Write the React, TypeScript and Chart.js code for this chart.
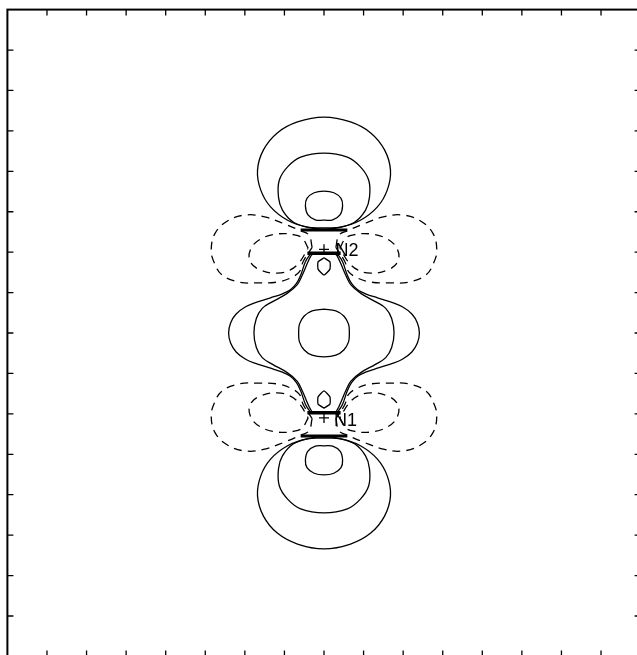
import { useEffect, useRef } from 'react';
import { Chart, registerables } from 'chart.js';

Chart.register(...registerables);

type Pt = [number, number];

// Axis frame (data units, molecule centred at 0,0)
const AXIS_MIN = -8;
const AXIS_MAX = 8;
const TICK_VALUES = [-7, -6, -5, -4, -3, -2, -1, 0, 1, 2, 3, 4, 5, 6, 7];

// Atom positions and labels
const ATOMS: Pt[] = [[0, 2.07], [0, -2.1]];
const ATOM_LABELS = ['N2', 'N1'];
const LABEL_POS: Pt[] = [[0.29, 2.04], [0.25, -2.17]];

// Upper positive lobe (right half, from bottom cusp up to top)
const upperLobeOuter: Pt[] = [[0, 2.6], [0.42, 2.62], [0.92, 2.79], [1.35, 3.12], [1.6, 3.54], [1.68, 4.03], [1.53, 4.53], [1.18, 4.95], [0.67, 5.22], [0, 5.34]];
const upperLobeMiddle: Pt[] = [[0, 2.57], [0.34, 2.6], [0.77, 2.74], [1.05, 3.04], [1.15, 3.36], [1.13, 3.78], [0.92, 4.11], [0.59, 4.35], [0, 4.45]];
const upperLobeInner: Pt[] = [[0, 2.79], [0.22, 2.8], [0.41, 2.93], [0.47, 3.15], [0.43, 3.33], [0.25, 3.47], [0, 3.51]];

// Central positive lobe (top-right quarter)
const midLobeOuter: Pt[] = [[0, 1.98], [0.3, 1.98], [0.36, 1.93], [0.47, 1.76], [0.59, 1.43], [0.7, 1.22], [0.85, 1.07], [1.05, 0.97], [1.35, 0.87], [1.68, 0.77], [1.98, 0.65], [2.22, 0.47], [2.36, 0.25], [2.41, 0]];
const midLobeSecond: Pt[] = [[0, 1.98], [0.25, 1.98], [0.34, 1.89], [0.44, 1.68], [0.55, 1.43], [0.68, 1.19], [0.93, 0.98], [1.31, 0.77], [1.56, 0.61], [1.71, 0.36], [1.77, 0]];
const midLobeInner: Pt[] = [[0, 0.59], [0.3, 0.55], [0.5, 0.42], [0.62, 0.22], [0.64, 0]];

// Small positive pocket next to atom (right half, top to bottom)
const pocket: Pt[] = [[0, 1.86], [0.15, 1.76], [0.15, 1.58], [0, 1.43]];

// Negative (dashed) lobes beside N2, right side
const negOuter: Pt[] = [[0.3, 2.12], [0.38, 2.42], [0.6, 2.53], [1.0, 2.7], [1.5, 2.87], [1.98, 2.92], [2.44, 2.77], [2.75, 2.47], [2.85, 2.05], [2.77, 1.73], [2.57, 1.43], [2.14, 1.26], [1.69, 1.24], [1.18, 1.26], [0.85, 1.36], [0.62, 1.52], [0.52, 1.78], [0.3, 2.12]];
const negInner: Pt[] = [[0.4, 2.1], [0.55, 2.35], [0.75, 2.43], [1.18, 2.45], [1.61, 2.32], [1.86, 2.06], [1.86, 1.76], [1.61, 1.56], [1.18, 1.48], [0.85, 1.56], [0.62, 1.75], [0.4, 2.1]];

// Crowded contours at the nuclei (drawn as heavy strokes)
const barOuter: Pt[] = [[-0.59, 2.55], [0.59, 2.55]];
const barInner: Pt[] = [[-0.42, 1.97], [0.42, 1.97]];

const flipX = (p: Pt[]): Pt[] => p.map(([x, y]) => [-x, y] as Pt);
const flipY = (p: Pt[]): Pt[] => p.map(([x, y]) => [x, -y] as Pt);

function loopFromHalf(half: Pt[]): Pt[] {
  const left = half.filter(([x]) => x !== 0).reverse().map(([x, y]) => [-x, y] as Pt);
  return [...half, ...left, half[0]];
}

function loopFromQuarter(q: Pt[]): Pt[] {
  const br = q.filter(([, y]) => y !== 0).reverse().map(([x, y]) => [x, -y] as Pt);
  const right = [...q, ...br];
  return loopFromHalf(right);
}

function solid(pts: Pt[], tension = 0.4, width = 1.3) {
  return {
    data: pts.map(([x, y]) => ({ x, y })),
    showLine: true,
    borderColor: '#000',
    borderWidth: width,
    pointRadius: 0,
    tension,
    fill: false,
  };
}

function dashed(pts: Pt[]) {
  return { ...solid(pts), borderDash: [8, 6] };
}

const framePlugin = {
  id: 'frameTicks',
  afterDraw(chart: any) {
    const { ctx, chartArea: a, scales } = chart;
    const sx = scales.x;
    const sy = scales.y;
    ctx.save();
    ctx.strokeStyle = '#000';
    ctx.lineWidth = 2;
    ctx.strokeRect(a.left, a.top, a.right - a.left, a.bottom - a.top);
    ctx.lineWidth = 1.3;
    const len = 6;
    ctx.beginPath();
    for (const v of TICK_VALUES) {
      const px = sx.getPixelForValue(v);
      const py = sy.getPixelForValue(v);
      ctx.moveTo(px, a.top);
      ctx.lineTo(px, a.top + len);
      ctx.moveTo(px, a.bottom);
      ctx.lineTo(px, a.bottom - len);
      ctx.moveTo(a.left, py);
      ctx.lineTo(a.left + len, py);
      ctx.moveTo(a.right, py);
      ctx.lineTo(a.right - len, py);
    }
    ctx.stroke();
    ctx.fillStyle = '#000';
    ctx.font = '18px "Liberation Sans", Arial, sans-serif';
    ctx.textBaseline = 'middle';
    ctx.textAlign = 'left';
    ATOM_LABELS.forEach((t, i) => {
      const [lx, ly] = LABEL_POS[i];
      ctx.fillText(t, sx.getPixelForValue(lx), sy.getPixelForValue(ly));
    });
    ctx.restore();
  },
};

export default function App() {
  const ref = useRef<HTMLCanvasElement>(null);
  useEffect(() => {
    if (!ref.current) return;
    const upper = [upperLobeOuter, upperLobeMiddle, upperLobeInner].map(loopFromHalf);
    const lower = upper.map(flipY);
    const mid = [midLobeOuter, midLobeSecond, midLobeInner].map(loopFromQuarter);
    const pocketTop = loopFromHalf(pocket);
    const pocketBottom = flipY(pocketTop);
    const negs: Pt[][] = [];
    for (const lobe of [negOuter, negInner]) {
      negs.push(lobe, flipX(lobe), flipY(lobe), flipY(flipX(lobe)));
    }
    const datasets: any[] = [
      ...upper.map((p) => solid(p)),
      ...lower.map((p) => solid(p)),
      ...mid.map((p) => solid(p)),
      solid(pocketTop, 0.15),
      solid(pocketBottom, 0.15),
      ...negs.map((p) => dashed(p)),
      solid(barOuter, 0, 3),
      solid(barInner, 0, 3.5),
      solid(flipY(barOuter), 0, 3),
      solid(flipY(barInner), 0, 3.5),
      {
        data: ATOMS.map(([x, y]) => ({ x, y })),
        showLine: false,
        pointStyle: 'cross',
        pointRadius: 5,
        borderColor: '#000',
        borderWidth: 1.3,
      },
    ];
    const chart = new Chart(ref.current, {
      type: 'scatter',
      data: { datasets },
      options: {
        animation: false,
        responsive: false,
        events: [],
        layout: { padding: { left: 7.4, top: 9.6, right: 19.4, bottom: 23.6 } },
        scales: {
          x: { type: 'linear', min: AXIS_MIN, max: AXIS_MAX, display: false },
          y: { type: 'linear', min: AXIS_MIN, max: AXIS_MAX, display: false },
        },
        plugins: { legend: { display: false }, tooltip: { enabled: false } },
      },
      plugins: [framePlugin],
    });
    return () => chart.destroy();
  }, []);
  return (
    <canvas
      ref={ref}
      width={660}
      height={680}
      style={{ position: 'fixed', left: 0, top: 0, width: 660, height: 680, background: '#fff' }}
    />
  );
}
